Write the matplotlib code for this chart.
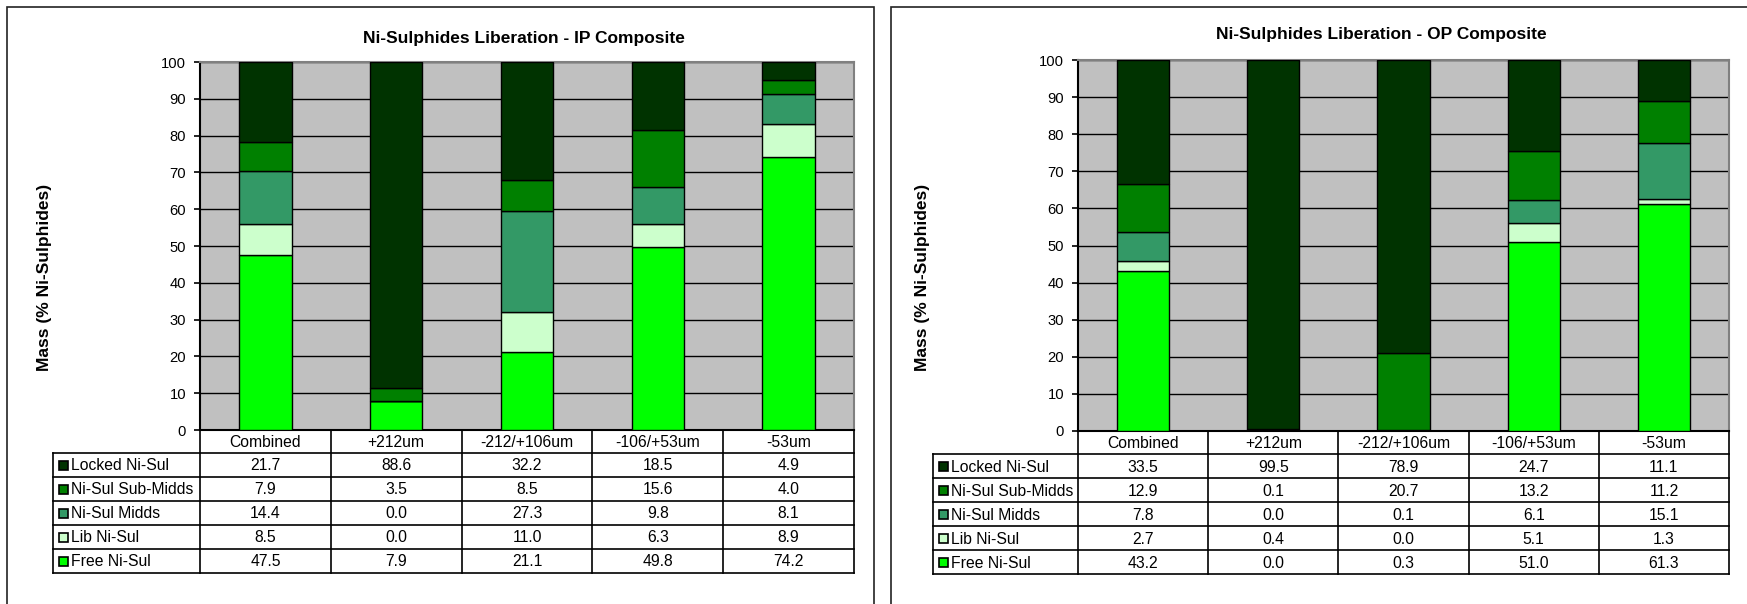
import matplotlib.pyplot as plt
import matplotlib.patches as mpatches
import numpy as np

plt.rcParams['font.family'] = ['Liberation Sans', 'DejaVu Sans']

# Size fractions and liberation classes
categories = ["Combined", "+212um", "-212/+106um", "-106/+53um", "-53um"]
classes = ["Locked Ni-Sul", "Ni-Sul Sub-Midds", "Ni-Sul Midds", "Lib Ni-Sul", "Free Ni-Sul"]

# IP composite (% Ni-sulphides)
ip_locked = [21.7, 88.6, 32.2, 18.5, 4.9]
ip_submidds = [7.9, 3.5, 8.5, 15.6, 4.0]
ip_midds = [14.4, 0.0, 27.3, 9.8, 8.1]
ip_lib = [8.5, 0.0, 11.0, 6.3, 8.9]
ip_free = [47.5, 7.9, 21.1, 49.8, 74.2]

# OP composite (% Ni-sulphides)
op_locked = [33.5, 99.5, 78.9, 24.7, 11.1]
op_submidds = [12.9, 0.1, 20.7, 13.2, 11.2]
op_midds = [7.8, 0.0, 0.1, 6.1, 15.1]
op_lib = [2.7, 0.4, 0.0, 5.1, 1.3]
op_free = [43.2, 0.0, 0.3, 51.0, 61.3]

yticks = list(range(0, 101, 10))

COLORS = {
    "Locked Ni-Sul": "#003300",
    "Ni-Sul Sub-Midds": "#008000",
    "Ni-Sul Midds": "#339966",
    "Lib Ni-Sul": "#CCFFCC",
    "Free Ni-Sul": "#00FF00",
}
PLOT_BG = "#C0C0C0"

W, H = 1747, 604
fig = plt.figure(figsize=(W / 100, H / 100), dpi=100, facecolor="white")


def fx(x):
    return x / W


def fy(y):
    return 1 - y / H


def panel(title, rows, box, plot_px, table_x0, title_xy, ylabel_xy):
    # outer chart frame
    bx0, by0, bx1, by1 = box
    fig.patches.append(mpatches.Rectangle(
        (fx(bx0), fy(by1)), fx(bx1) - fx(bx0), fy(by0) - fy(by1),
        transform=fig.transFigure, fill=False, edgecolor="#222222",
        linewidth=1.2, clip_on=False))

    x0, y0, x1, y1 = plot_px
    ax = fig.add_axes([fx(x0), fy(y1), fx(x1) - fx(x0), fy(y0) - fy(y1)])
    ax.set_facecolor(PLOT_BG)

    x = np.arange(len(categories))
    bottom = np.zeros(len(categories))
    # stack from free (bottom) to locked (top)
    for name, vals in reversed(rows):
        ax.bar(x, vals, bottom=bottom, width=0.4, color=COLORS[name],
               edgecolor="black", linewidth=1.0, zorder=3)
        bottom += np.array(vals)

    ax.set_xlim(-0.5, len(categories) - 0.5)
    ax.set_ylim(0, 100)
    ax.set_yticks(yticks)
    ax.set_xticks([])
    ax.yaxis.grid(True, color="black", linewidth=1.0)
    ax.set_axisbelow(True)
    ax.tick_params(axis="y", direction="out", length=4, width=1.2, pad=6,
                   labelsize=10.6, colors="black")
    for side in ("top", "right"):
        ax.spines[side].set_color("#808080")
        ax.spines[side].set_linewidth(1.5)
    for side in ("left", "bottom"):
        ax.spines[side].set_color("black")
        ax.spines[side].set_linewidth(1.5)

    fig.text(fx(title_xy[0]), fy(title_xy[1]), title, ha="center", va="center",
             fontsize=12.5, fontweight="bold")
    fig.text(fx(ylabel_xy[0]), fy(ylabel_xy[1]), "Mass (% Ni-Sulphides)",
             ha="center", va="center", rotation=90, fontsize=12.5,
             fontweight="bold")

    # data table under the plot
    t_top, head_h, row_h = y1, 23, 24
    t_bot = t_top + head_h + row_h * len(rows)
    tax = fig.add_axes([fx(table_x0), fy(t_bot), fx(x1) - fx(table_x0),
                        fy(t_top) - fy(t_bot)])
    tax.axis("off")
    cat_px = (x1 - x0) / len(categories)
    lab_w = (x0 - table_x0) / cat_px
    left = -0.5 - lab_w
    right = len(categories) - 0.5
    tax.set_xlim(left, right)
    tax.set_ylim(t_bot - t_top, 0)
    lk = dict(color="black", linewidth=1.2, clip_on=False)

    for i, cat in enumerate(categories):
        tax.text(i, head_h / 2 + 1, cat, ha="center", va="center", fontsize=11.3)
    for b in np.arange(-0.5, right + 0.01, 1.0):
        tax.plot([b, b], [0, t_bot - t_top], **lk)
    tax.plot([left, left], [head_h, t_bot - t_top], **lk)
    for r in range(len(rows) + 1):
        yy = head_h + r * row_h
        tax.plot([left, right], [yy, yy], **lk)

    key = 9 / cat_px
    for r, (name, vals) in enumerate(rows):
        yc = head_h + r * row_h + row_h / 2 + 1
        kx = left + 6 / cat_px
        tax.add_patch(mpatches.Rectangle((kx, yc - 5), key, 9,
                                         facecolor=COLORS[name],
                                         edgecolor="black", linewidth=1.2,
                                         clip_on=False))
        tax.text(kx + key + 3 / cat_px, yc, name, ha="left", va="center",
                 fontsize=11.3)
        for i, v in enumerate(vals):
            tax.text(i, yc, f"{v:.1f}", ha="center", va="center", fontsize=11.3)
    return ax


ip_rows = list(zip(classes, [ip_locked, ip_submidds, ip_midds, ip_lib, ip_free]))
op_rows = list(zip(classes, [op_locked, op_submidds, op_midds, op_lib, op_free]))

panel("Ni-Sulphides Liberation - IP Composite", ip_rows,
      box=(7, 7, 874, 640), plot_px=(200, 62, 854, 430), table_x0=53,
      title_xy=(524, 39), ylabel_xy=(45, 277))
panel("Ni-Sulphides Liberation - OP Composite", op_rows,
      box=(891, 7, 1790, 640), plot_px=(1078, 60, 1729, 431), table_x0=933,
      title_xy=(1381, 35), ylabel_xy=(923, 277))

fig.savefig("out.png", dpi=100, facecolor="white")
